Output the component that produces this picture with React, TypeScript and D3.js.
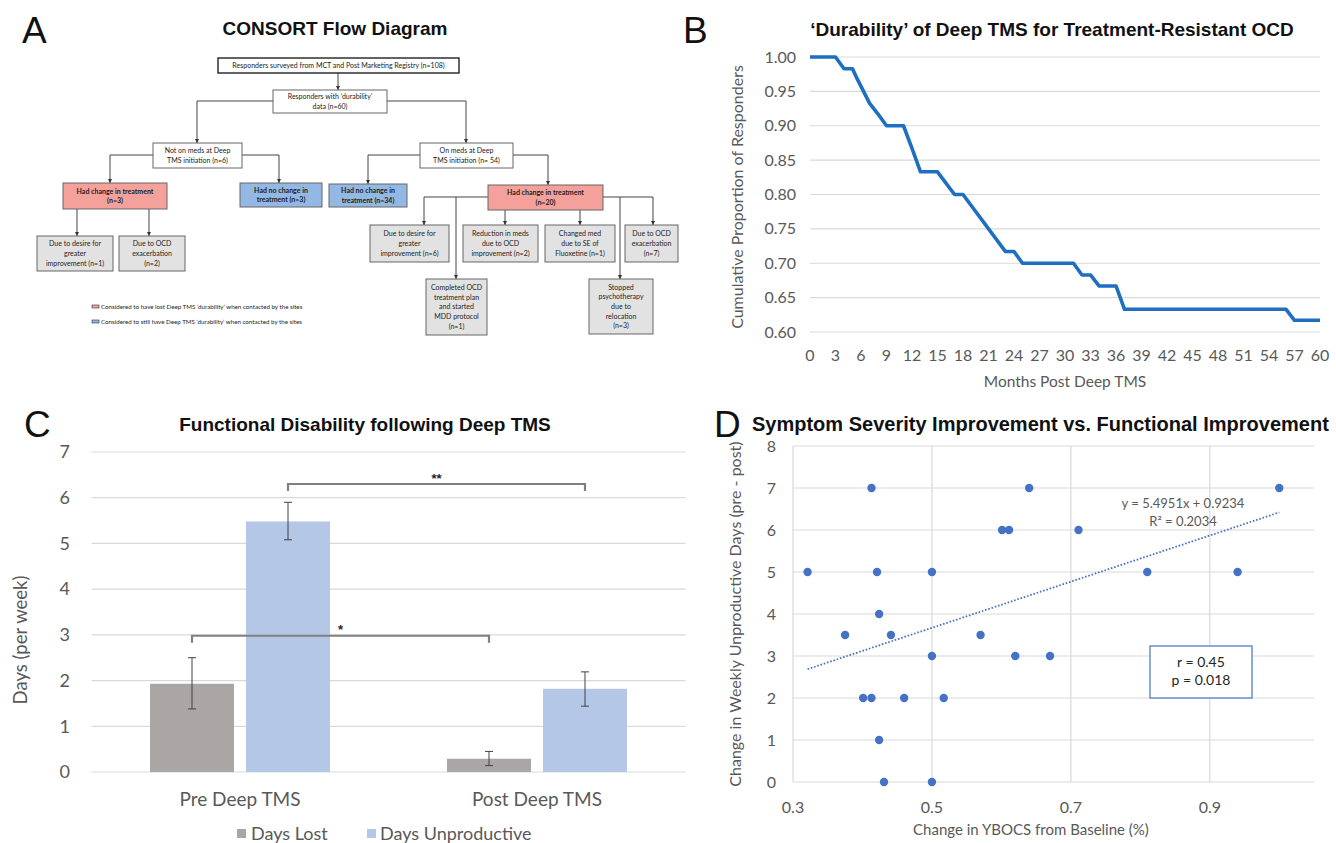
import React from 'react'
import * as d3 from 'd3'

const LABEL_FONT = 'Lato, "Open Sans", sans-serif'
const HEAD_FONT = '"Liberation Sans", Arial, Helvetica, sans-serif'
const AXIS_GREY = '#595959'
const GRID = '#d9d9d9'

// ---- Panel B: durability curve
const durMonths = [0, 3, 4, 5, 5.6, 7, 8, 9, 11, 12, 13, 15, 17, 18, 23, 24, 25, 31, 32, 33, 34, 36, 37, 56, 57, 60]
const durProportion = [1, 1, 0.983, 0.983, 0.967, 0.933, 0.917, 0.9, 0.9, 0.867, 0.833, 0.833, 0.8, 0.8, 0.717, 0.717, 0.7, 0.7, 0.683, 0.683, 0.667, 0.667, 0.633, 0.633, 0.617, 0.617]
const durYTicks = [0.6, 0.65, 0.7, 0.75, 0.8, 0.85, 0.9, 0.95, 1.0]
const durXTicks = [0, 3, 6, 9, 12, 15, 18, 21, 24, 27, 30, 33, 36, 39, 42, 45, 48, 51, 54, 57, 60]

// ---- Panel C: functional disability
const phases = ['Pre Deep TMS', 'Post Deep TMS']
const measures = ['Days Lost', 'Days Unproductive']
const measureColors = ['#aaa6a6', '#b4c7e7']
const daysLost = [1.93, 0.29]
const daysLostLow = [1.38, 0.14]
const daysLostHigh = [2.5, 0.45]
const daysUnprod = [5.48, 1.82]
const daysUnprodLow = [5.08, 1.44]
const daysUnprodHigh = [5.9, 2.19]
const daysTicks = [0, 1, 2, 3, 4, 5, 6, 7]
const sigLabels = ['**', '*']
const sigMeasure = ['Days Unproductive', 'Days Lost']
const sigLevel = [6.3, 2.98]

// ---- Panel D: YBOCS vs unproductive days
const ybocsChange = [0.413, 0.64, 1.0, 0.601, 0.611, 0.711, 0.321, 0.421, 0.5, 0.81, 0.94, 0.424, 0.375, 0.441, 0.57, 0.5, 0.62, 0.67, 0.401, 0.413, 0.46, 0.517, 0.424, 0.431, 0.5]
const unprodChange = [7, 7, 7, 6, 6, 6, 5, 5, 5, 5, 5, 4, 3.5, 3.5, 3.5, 3, 3, 3, 2, 2, 2, 2, 1, 0, 0]
const ybocsTicks = [0.3, 0.5, 0.7, 0.9]
const unprodTicks = [0, 1, 2, 3, 4, 5, 6, 7, 8]
const trendSlope = 5.4951
const trendIntercept = 0.9234

// ---- Panel A: CONSORT boxes (layout of a diagram)
type FlowNode = { x: number; y: number; w: number; h: number; kind: string; lines: string[] }
const flowNodes: FlowNode[] = [
  { x: 218, y: 58, w: 241, h: 15, kind: 'top', lines: ['Responders surveyed from MCT and Post Marketing Registry (n=108)'] },
  { x: 273, y: 90, w: 114, h: 23, kind: 'plain', lines: ['Responders with \u2018durability\u2019', 'data (n=60)'] },
  { x: 153, y: 143, w: 89, h: 25, kind: 'plain', lines: ['Not on meds at Deep', 'TMS initiation (n=6)'] },
  { x: 420, y: 143, w: 93, h: 25, kind: 'plain', lines: ['On meds at Deep', 'TMS initiation (n= 54)'] },
  { x: 63, y: 183, w: 104, h: 26, kind: 'red', lines: ['Had change in treatment', '(n=3)'] },
  { x: 240, y: 183, w: 82, h: 24, kind: 'blue', lines: ['Had no change in', 'treatment (n=3)'] },
  { x: 329, y: 184, w: 78, h: 23, kind: 'blue', lines: ['Had no change in', 'treatment (n=34)'] },
  { x: 488, y: 185, w: 115, h: 25, kind: 'red', lines: ['Had change in treatment', '(n=20)'] },
  { x: 37, y: 236, w: 76, h: 35, kind: 'grey', lines: ['Due to desire for', 'greater', 'improvement (n=1)'] },
  { x: 119, y: 236, w: 66, h: 35, kind: 'grey', lines: ['Due to OCD', 'exacerbation', '(n=2)'] },
  { x: 370, y: 225, w: 79, h: 37, kind: 'grey', lines: ['Due to desire for', 'greater', 'improvement (n=6)'] },
  { x: 463, y: 225, w: 75, h: 37, kind: 'grey', lines: ['Reduction in meds', 'due to OCD', 'improvement (n=2)'] },
  { x: 545, y: 225, w: 70, h: 37, kind: 'grey', lines: ['Changed med', 'due to SE of', 'Fluoxetine (n=1)'] },
  { x: 625, y: 225, w: 53, h: 37, kind: 'grey', lines: ['Due to OCD', 'exacerbation', '(n=7)'] },
  { x: 426, y: 279, w: 61, h: 56, kind: 'grey', lines: ['Completed OCD', 'treatment plan', 'and started', 'MDD protocol', '(n=1)'] },
  { x: 589, y: 279, w: 64, h: 55, kind: 'grey', lines: ['Stopped', 'psychotherapy', 'due to', 'relocation', '(n=3)'] },
]
const flowLinks: [number, number][][] = [
  [[338, 73], [338, 90]],
  [[273, 101], [197, 101], [197, 143]],
  [[387, 101], [466, 101], [466, 143]],
  [[153, 155], [110, 155], [110, 183]],
  [[242, 155], [279, 155], [279, 183]],
  [[420, 155], [368, 155], [368, 184]],
  [[513, 155], [548, 155], [548, 185]],
  [[77, 209], [77, 236]],
  [[149, 209], [149, 236]],
  [[488, 197], [424, 197], [424, 225]],
  [[456, 197], [456, 279]],
  [[505, 210], [505, 225]],
  [[580, 210], [580, 225]],
  [[603, 197], [653, 197], [653, 225]],
  [[620, 197], [620, 279]],
]
const flowLegend = [
  { kind: 'red', text: 'Considered to have lost Deep TMS \u2018durability\u2019 when contacted by the sites' },
  { kind: 'blue', text: 'Considered to still have Deep TMS \u2018durability\u2019 when contacted by the sites' },
]
const kindFill: Record<string, string> = { top: '#fff', plain: '#fff', red: '#f4a19c', blue: '#93b8e3', grey: '#e2e2e2' }

const TITLE_SIZE = 19

function PanelA() {
  const linkPath = d3.line()
  return (
    <g>
      <defs>
        <marker id="flowArrow" markerWidth={4} markerHeight={4} refX={4} refY={2} orient="auto">
          <path d="M0,0 L4,2 L0,4 z" fill="#333" />
        </marker>
      </defs>
      <text x={22} y={43} fontFamily={HEAD_FONT} fontSize={37} fill="#111">A</text>
      <text x={335} y={35} textAnchor="middle" fontFamily={HEAD_FONT} fontWeight="bold" fontSize={TITLE_SIZE} fill="#111">CONSORT Flow Diagram</text>
      {flowLinks.map((pts, i) => (
        <path key={i} d={linkPath(pts) || ''} fill="none" stroke="#444" strokeWidth={1} markerEnd="url(#flowArrow)" />
      ))}
      {flowNodes.map((n, i) => {
        const lh = 9.6
        const y0 = n.y + n.h / 2 - ((n.lines.length - 1) * lh) / 2
        return (
          <g key={i}>
            <rect x={n.x} y={n.y} width={n.w} height={n.h} fill={kindFill[n.kind]}
              stroke={n.kind === 'top' ? '#222' : '#666'} strokeWidth={n.kind === 'top' ? 1.4 : 1} />
            {n.lines.map((l, j) => (
              <text key={j} x={n.x + n.w / 2} y={y0 + j * lh} dy="0.35em" textAnchor="middle"
                fontFamily={LABEL_FONT} fontSize={7} fontWeight={n.kind === 'red' || n.kind === 'blue' ? 'bold' : 'normal'}
                fill="#222">{l}</text>
            ))}
          </g>
        )
      })}
      {flowLegend.map((l, i) => (
        <g key={i}>
          <rect x={92} y={305 + i * 15} width={7} height={3} fill={kindFill[l.kind]} stroke="#333" strokeWidth={0.6} />
          <text x={101} y={306.5 + i * 15} dy="0.35em" fontFamily={LABEL_FONT} fontSize={6.2} fill="#222">{l.text}</text>
        </g>
      ))}
    </g>
  )
}

function PanelB() {
  const x = d3.scaleLinear().domain([0, 60]).range([810, 1320])
  const y = d3.scaleLinear().domain([0.6, 1]).range([332, 57])
  const path = d3.line<number>().x((_, i) => x(durMonths[i])).y(d => y(d))(durProportion) || ''
  return (
    <g fontFamily={LABEL_FONT} fill={AXIS_GREY}>
      <text x={683} y={43} fontFamily={HEAD_FONT} fontSize={37} fill="#111">B</text>
      <text x={1052} y={36} textAnchor="middle" fontFamily={HEAD_FONT} fontWeight="bold" fontSize={TITLE_SIZE} fill="#111">
        {'\u2018Durability\u2019 of Deep TMS for Treatment-Resistant OCD'}
      </text>
      {durYTicks.map(t => (
        <g key={t}>
          <line x1={x(0)} x2={x(60)} y1={y(t)} y2={y(t)} stroke={GRID} strokeWidth={1.2} />
          <text x={796} y={y(t)} dy="0.35em" textAnchor="end" fontSize={16}>{t.toFixed(2)}</text>
        </g>
      ))}
      {durXTicks.map(t => (
        <text key={t} x={x(t)} y={361} textAnchor="middle" fontSize={16}>{t}</text>
      ))}
      <path d={path} fill="none" stroke="#1f6fc1" strokeWidth={3.6} strokeLinejoin="round" />
      <text transform="translate(737,197) rotate(-90)" textAnchor="middle" dy="0.35em" fontSize={16}>Cumulative Proportion of Responders</text>
      <text x={1065} y={387} textAnchor="middle" fontSize={15.5}>Months Post Deep TMS</text>
    </g>
  )
}

function PanelC() {
  const x0 = d3.scaleBand().domain(phases).range([91.5, 685.5])
  const x1 = d3.scaleBand().domain(measures).range([-90, 90]).paddingInner(0.125)
  const y = d3.scaleLinear().domain([0, 7]).range([772, 452])
  const values = [daysLost, daysUnprod]
  const lows = [daysLostLow, daysUnprodLow]
  const highs = [daysLostHigh, daysUnprodHigh]
  const center = (p: string) => (x0(p) || 0) + x0.bandwidth() / 2
  const barMid = (p: string, m: string) => center(p) + (x1(m) || 0) + x1.bandwidth() / 2
  return (
    <g fontFamily={LABEL_FONT} fill={AXIS_GREY}>
      <text x={24} y={437} fontFamily={HEAD_FONT} fontSize={37} fill="#111">C</text>
      <text x={365} y={431} textAnchor="middle" fontFamily={HEAD_FONT} fontWeight="bold" fontSize={TITLE_SIZE} fill="#111">Functional Disability following Deep TMS</text>
      {daysTicks.map(t => (
        <g key={t}>
          <line x1={91.5} x2={685.5} y1={y(t)} y2={y(t)} stroke={GRID} strokeWidth={1.2} />
          <text x={70} y={y(t)} dy="0.35em" textAnchor="end" fontSize={18}>{t}</text>
        </g>
      ))}
      {measures.map((m, si) => phases.map((p, pi) => (
        <rect key={m + p} x={center(p) + (x1(m) || 0)} y={y(values[si][pi])} width={x1.bandwidth()}
          height={y(0) - y(values[si][pi])} fill={measureColors[si]} />
      )))}
      {measures.map((m, si) => phases.map((p, pi) => {
        const cx = barMid(p, m)
        return (
          <g key={'e' + m + p} stroke="#404040" strokeWidth={1}>
            <line x1={cx} x2={cx} y1={y(lows[si][pi])} y2={y(highs[si][pi])} />
            <line x1={cx - 4} x2={cx + 4} y1={y(lows[si][pi])} y2={y(lows[si][pi])} />
            <line x1={cx - 4} x2={cx + 4} y1={y(highs[si][pi])} y2={y(highs[si][pi])} />
          </g>
        )
      }))}
      {sigLabels.map((s, i) => {
        const xa = barMid(phases[0], sigMeasure[i])
        const xb = barMid(phases[1], sigMeasure[i])
        const yl = y(sigLevel[i])
        return (
          <g key={s}>
            <path d={`M${xa},${yl + 7}V${yl}H${xb}V${yl + 7}`} fill="none" stroke="#808080" strokeWidth={2.2} />
            <text x={(xa + xb) / 2} y={yl - 1.5} textAnchor="middle" fontFamily={HEAD_FONT} fontWeight="bold" fontSize={13} fill="#262626">{s}</text>
          </g>
        )
      })}
      {phases.map(p => (
        <text key={p} x={center(p)} y={806} textAnchor="middle" fontSize={19}>{p}</text>
      ))}
      <text transform="translate(21,640) rotate(-90)" textAnchor="middle" dy="0.35em" fontSize={18.5}>Days (per week)</text>
      <rect x={237} y={829} width={9} height={9} fill={measureColors[0]} />
      <text x={251} y={840} fontSize={18}>{measures[0]}</text>
      <rect x={367} y={829} width={9} height={9} fill={measureColors[1]} />
      <text x={380} y={840} fontSize={18}>{measures[1]}</text>
    </g>
  )
}

function PanelD() {
  const x = d3.scaleLinear().domain([0.3, 1.05]).range([793, 1314])
  const y = d3.scaleLinear().domain([0, 8]).range([782, 446])
  const xMin = d3.min(ybocsChange) || 0.3
  const xMax = d3.max(ybocsChange) || 1
  return (
    <g fontFamily={LABEL_FONT} fill={AXIS_GREY}>
      <text x={714} y={437} fontFamily={HEAD_FONT} fontSize={37} fill="#111">D</text>
      <text x={752} y={431} fontFamily={HEAD_FONT} fontWeight="bold" fontSize={20} fill="#111">Symptom Severity Improvement vs. Functional Improvement</text>
      {unprodTicks.map(t => (
        <g key={t}>
          <line x1={x(0.3)} x2={x(1.05)} y1={y(t)} y2={y(t)} stroke={GRID} strokeWidth={1.2} />
          <text x={776} y={y(t)} dy="0.35em" textAnchor="end" fontSize={16}>{t}</text>
        </g>
      ))}
      {ybocsTicks.map(t => (
        <g key={t}>
          <line x1={x(t)} x2={x(t)} y1={y(0)} y2={y(8)} stroke={GRID} strokeWidth={1.2} />
          <text x={x(t)} y={813} textAnchor="middle" fontSize={16}>{t}</text>
        </g>
      ))}
      <line x1={x(xMin)} x2={x(xMax)} y1={y(trendSlope * xMin + trendIntercept)} y2={y(trendSlope * xMax + trendIntercept)}
        stroke="#4472c4" strokeWidth={1.8} strokeDasharray="1.6 1.8" />
      {ybocsChange.map((v, i) => (
        <circle key={i} cx={x(v)} cy={y(unprodChange[i])} r={4.2} fill="#4472c4" />
      ))}
      <text x={1183} y={508} textAnchor="middle" fontSize={13}>y = 5.4951x + 0.9234</text>
      <text x={1183} y={526} textAnchor="middle" fontSize={13}>R² = 0.2034</text>
      <rect x={1150} y={646} width={102} height={52} fill="#fff" stroke="#4f7fcf" strokeWidth={1.3} />
      <text x={1201} y={667} textAnchor="middle" fontSize={14} fill="#262626">r = 0.45</text>
      <text x={1201} y={685} textAnchor="middle" fontSize={14} fill="#262626">p = 0.018</text>
      <text transform="translate(735,614) rotate(-90)" textAnchor="middle" dy="0.35em" fontSize={16}>Change in Weekly Unproductive Days (pre - post)</text>
      <text x={1031} y={835} textAnchor="middle" fontSize={15}>Change in YBOCS from Baseline (%)</text>
    </g>
  )
}

export default function App() {
  return (
    <div style={{ position: 'absolute', left: 0, top: 0, width: 1336, height: 843, background: '#fff' }}>
      <svg width={1336} height={843} viewBox="0 0 1336 843" style={{ display: 'block' }}>
        <rect width={1336} height={843} fill="#fff" />
        <PanelA />
        <PanelB />
        <PanelC />
        <PanelD />
      </svg>
    </div>
  )
}
